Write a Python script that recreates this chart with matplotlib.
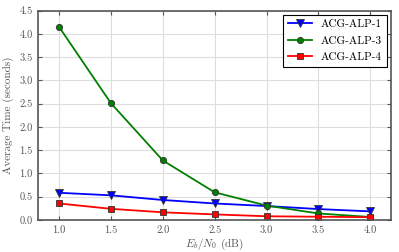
import numpy as np
from matplotlib import pyplot as plt

plt.rcParams['font.family'] = 'serif'
plt.rcParams['font.serif'] = ['cmr10']
plt.rcParams['mathtext.fontset'] = 'cm'
plt.rcParams['axes.formatter.use_mathtext'] = True

ebn0 = [1.0, 1.5, 2.0, 2.5, 3.0, 3.5, 4.0]
alp1 = [0.585, 0.53, 0.43, 0.355, 0.30, 0.235, 0.185]
alp3 = [4.15, 2.51, 1.28, 0.595, 0.31, 0.14, 0.065]
alp4 = [0.355, 0.24, 0.165, 0.12, 0.08, 0.07, 0.06]

fig, ax = plt.subplots(figsize=(3.99, 2.52), dpi=100)
fig.subplots_adjust(left=0.096, right=0.98, top=0.958, bottom=0.127)

ax.plot(ebn0, alp1, color='blue', marker='v', markersize=5.5, markeredgecolor='#333333',
        markeredgewidth=0.6, linewidth=1.3, label='ACG-ALP-1')
ax.plot(ebn0, alp3, color='green', marker='o', markersize=4.5, markeredgecolor='#333333',
        markeredgewidth=0.6, linewidth=1.3, label='ACG-ALP-3')
ax.plot(ebn0, alp4, color='red', marker='s', markersize=5, markeredgecolor='#333333',
        markeredgewidth=0.6, linewidth=1.3, label='ACG-ALP-4')

ax.set_xlim(0.8, 4.2)
ax.set_ylim(0, 4.5)
ax.set_xticks(np.arange(1.0, 4.01, 0.5))
ax.set_yticks(np.arange(0, 4.51, 0.5))
ax.xaxis.set_major_formatter(plt.FormatStrFormatter('%.1f'))
ax.yaxis.set_major_formatter(plt.FormatStrFormatter('%.1f'))
ax.grid(True, color='#dddddd', linewidth=0.8)
ax.set_axisbelow(True)
ax.tick_params(direction='in', top=True, right=True, labelsize=7.5, colors='#555555',
               length=3, pad=4)
for s in ax.spines.values():
    s.set_color('#555555')
    s.set_linewidth(1.2)

ax.set_xlabel(r'$E_b/N_0$ (dB)', fontsize=8, color='#555555', labelpad=1)
ax.set_ylabel('Average Time (seconds)', fontsize=8, color='#555555', labelpad=4)

leg = ax.legend(loc='upper right', fontsize=8, fancybox=False, framealpha=1,
                edgecolor='black', borderpad=0.4, handlelength=2.2,
                labelspacing=0.6, borderaxespad=0.4)
leg.get_frame().set_linewidth(0.8)

plt.savefig('out.png', dpi=100)
